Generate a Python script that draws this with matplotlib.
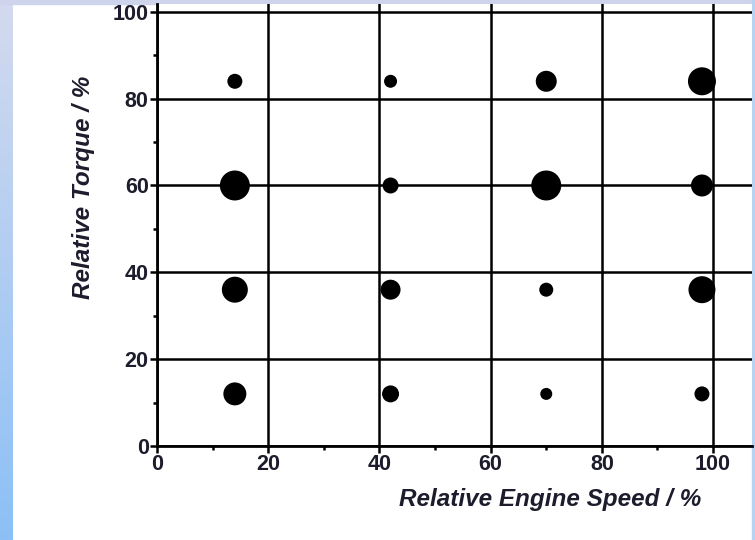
import numpy as np
import matplotlib.pyplot as plt
from matplotlib.ticker import MultipleLocator
from matplotlib.colors import LinearSegmentedColormap

# operating points: relative speed / torque and their weighting
speed = [14, 42, 70, 98]
torque = [84, 60, 36, 12]
# weighting per point, rows follow torque, columns follow speed
weight = [
    [15, 13, 21, 28],
    [30, 16, 30, 22],
    [26, 20, 14, 27],
    [23, 17, 12, 15],
]

xs, ys = np.meshgrid(speed, torque)
w = np.array(weight, dtype=float)

fig = plt.figure(figsize=(7.55, 5.4), dpi=100)
fig.patch.set_facecolor("white")

# slide frame: gradient strip on the left, thin band at top and right
bg = fig.add_axes([0, 0, 1, 1], zorder=-10)
bg.set_axis_off()
grad = np.linspace(0, 1, 256).reshape(-1, 1)
cm = LinearSegmentedColormap.from_list("frame", ["#8cc0f6", "#d4daee"])
bg.imshow(grad, extent=[0, 13, 0, 540], origin="lower", cmap=cm, aspect="auto")
bg.fill_between([0, 755], 536, 540, color="#cdd4ec")
bg.fill_between([752, 755], 0, 540, color="#b7d3f4")
bg.set_xlim(0, 755)
bg.set_ylim(0, 540)

ax = fig.add_axes([157 / 755, 94 / 540, 595 / 755, 442 / 540])
ax.scatter(xs.ravel(), ys.ravel(), s=(w.ravel() / 1.39) ** 2, color="black",
           zorder=3, linewidths=0)

ax.set_xlim(0, 107)
ax.set_ylim(0, 101.8)
ax.xaxis.set_major_locator(MultipleLocator(20))
ax.yaxis.set_major_locator(MultipleLocator(20))
ax.xaxis.set_minor_locator(MultipleLocator(10))
ax.yaxis.set_minor_locator(MultipleLocator(10))
ax.grid(True, which="major", color="black", linewidth=1.8)
ax.set_axisbelow(True)

for s in ["top", "right"]:
    ax.spines[s].set_visible(False)
for s in ["left", "bottom"]:
    ax.spines[s].set_linewidth(2)
    ax.spines[s].set_zorder(4)

ax.tick_params(which="major", direction="out", length=5, width=1.8,
               labelsize=15.5, pad=1, labelcolor="#1c1c2c")
ax.tick_params(which="minor", direction="out", length=3, width=1.8)
for lab in ax.get_xticklabels() + ax.get_yticklabels():
    lab.set_fontfamily("Liberation Sans")
    lab.set_fontweight("bold")

ax.set_xlabel("Relative Engine Speed / %", fontsize=17.5, fontweight="bold",
              fontstyle="italic", family="Liberation Sans", color="#1c1c2c")
ax.set_ylabel("Relative Torque / %", fontsize=17.5, fontweight="bold",
              fontstyle="italic", family="Liberation Sans", color="#1c1c2c")
ax.xaxis.set_label_coords(0.66, -0.095)
ax.yaxis.set_label_coords(-0.105, 0.586)

fig.savefig("out.png", dpi=100)
